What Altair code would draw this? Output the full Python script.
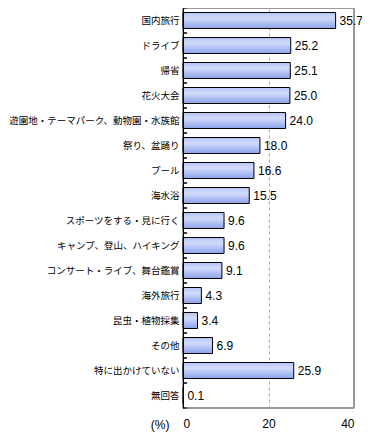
import altair as alt
import pandas as pd

categories = [
    "国内旅行", "ドライブ", "帰省", "花火大会",
    "遊園地・テーマパーク、動物園・水族館", "祭り、盆踊り", "プール", "海水浴",
    "スポーツをする・見に行く", "キャンプ、登山、ハイキング", "コンサート・ライブ、舞台鑑賞",
    "海外旅行", "昆虫・植物採集", "その他", "特に出かけていない", "無回答",
]
values = [35.7, 25.2, 25.1, 25.0, 24.0, 18.0, 16.6, 15.5, 9.6, 9.6, 9.1, 4.3, 3.4, 6.9, 25.9, 0.1]
x_ticks = [0, 20, 40]

df = pd.DataFrame({"cat": categories, "value": values})

yscale = alt.Scale(paddingInner=0.36, paddingOuter=0.18)
xscale = alt.Scale(domain=[0, 40], nice=False)
ysort = categories

yaxis = alt.Axis(title=None, ticks=False, domainColor="black", zindex=2,
                 labelFont="Noto Sans CJK JP", labelFontSize=9.5,
                 labelPadding=4, labelColor="black", labelLimit=400)
xaxis = alt.Axis(values=x_ticks, grid=True, gridDash=[3, 3], gridColor="#aaaaaa",
                 domain=False, ticks=False, labelPadding=10,
                 labelFont="Liberation Sans", labelFontSize=12, labelColor="black",
                 title="(%)", titleX=-14, titleY=16, titleAlign="right",
                 titleBaseline="middle", titleFontWeight="normal",
                 titleFont="Liberation Sans", titleFontSize=12, titleColor="black")

Y = alt.Y("cat:N", sort=ysort, scale=yscale, axis=yaxis)
X = alt.X("value:Q", scale=xscale, axis=xaxis)

grad = alt.Gradient(
    gradient="linear",
    stops=[
        alt.GradientStop(color="#b3c2f3", offset=0),
        alt.GradientStop(color="#d2dcfb", offset=0.35),
        alt.GradientStop(color="#8da2ea", offset=1),
    ],
    x1=0, y1=0, x2=0, y2=1,
)

frame = alt.Chart(df).mark_rect(fill=None, stroke="#999999", strokeWidth=1).encode(
    x=alt.value(0), x2=alt.value("width"), y=alt.value(0), y2=alt.value("height"),
)

bars = alt.Chart(df).mark_bar(fill=grad, stroke="black", strokeWidth=1).encode(y=Y, x=X)

text = alt.Chart(df).mark_text(align="left", baseline="middle", dx=4,
                               font="Liberation Sans", fontSize=12, color="black").encode(
    y=Y, x=X, text=alt.Text("value:Q", format=".1f"),
)

ticks_top = alt.Chart(df).mark_rule(color="black", strokeWidth=1, yOffset=-4.5).encode(
    y=alt.Y("cat:N", sort=ysort, scale=yscale, axis=yaxis, bandPosition=0),
    x=alt.value(0), x2=alt.value(4),
)
ticks_bot = alt.Chart(df).mark_rule(color="black", strokeWidth=1, yOffset=4.5).encode(
    y=alt.Y("cat:N", sort=ysort, scale=yscale, axis=yaxis, bandPosition=1),
    x=alt.value(0), x2=alt.value(4),
)

chart = alt.layer(frame, bars, text, ticks_top, ticks_bot).properties(
    width=171, height=400,
    padding={"left": 175, "top": 0, "right": 8, "bottom": 24},
    autosize="none",
).configure_view(stroke=None)

chart.save("out.html", embed_options={"renderer": "svg", "actions": False})
